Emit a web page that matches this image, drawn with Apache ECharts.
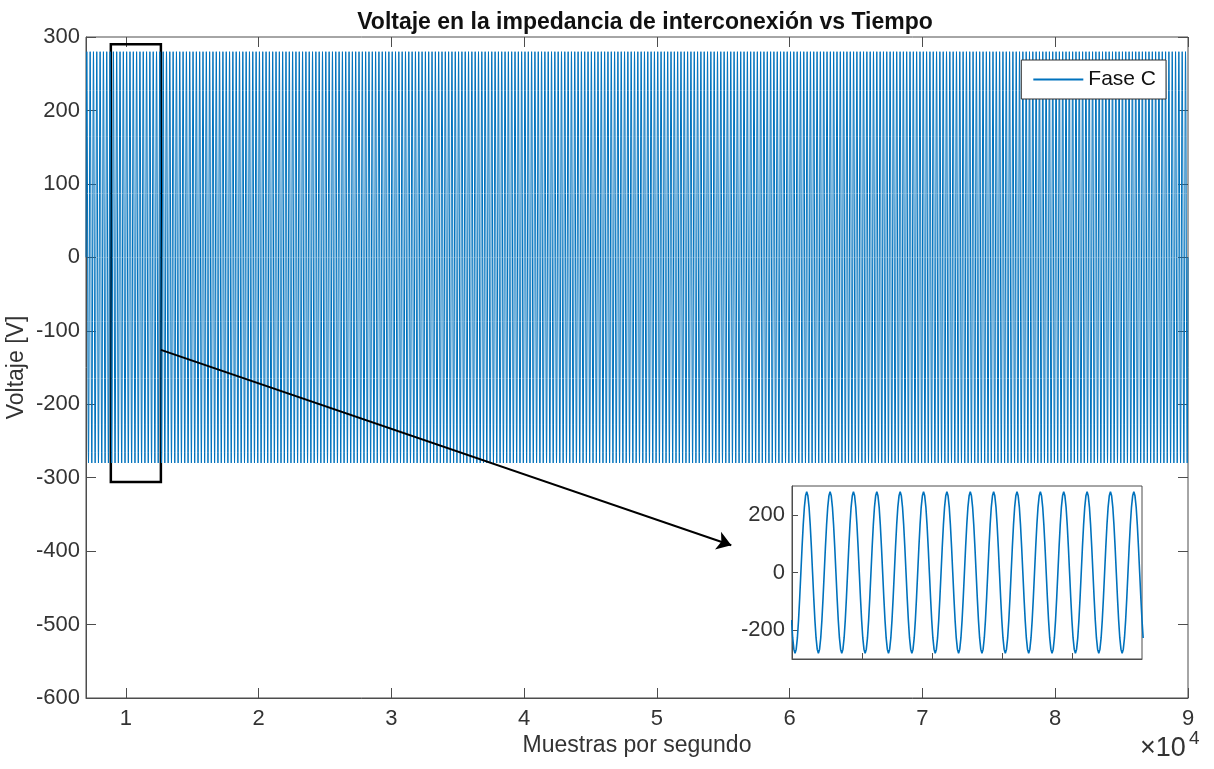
<!DOCTYPE html>
<html>
<head>
<meta charset="utf-8">
<title>Voltaje en la impedancia de interconexión vs Tiempo</title>
<script src="https://cdn.jsdelivr.net/npm/echarts@6/dist/echarts.min.js"></script>
<style>
  html, body { margin: 0; padding: 0; background: #fff; }
  #chart { width: 1214px; height: 769px; }
</style>
</head>
<body>
<div id="chart"></div>
<script>
  // muestras (eje x) y tensión (eje y)
  const tStart = 7000
  const tEnd = 90000
  const period = 250            // muestras por ciclo (~15 ciclos en el zoom)
  const cycleShape = [0, 87, 165, 227, 266, 280, 266, 227, 165, 87,
                      0, -87, -165, -227, -266, -280, -266, -227, -165, -87]
  const xTicks = [10000, 20000, 30000, 40000, 50000, 60000, 70000, 80000, 90000]
  const yTicks = [-600, -500, -400, -300, -200, -100, 0, 100, 200, 300]

  // recuadro ampliado
  const insetRange = [8905, 12650]
  const insetXTicks = [9655, 10405, 11150, 11900]
  const insetYTicks = [-200, 0, 200]
  // rectángulo y flecha de la anotación (en unidades de datos)
  const zoomBoxX = [8870, 12640]
  const zoomBoxY = [290, -306]
  const arrowFrom = [12640, -126]
  const arrowTo = [55600, -392]

  const step = period / cycleShape.length
  const signal = []
  for (let i = 0; tStart + i * step <= tEnd; i++) {
    signal.push([tStart + i * step, cycleShape[i % cycleShape.length]])
  }
  const insetData = signal.filter(p => p[0] >= insetRange[0] - step && p[0] <= insetRange[1] + step)

  const font = 'Liberation Sans, Arial, Helvetica, sans-serif'
  const axisColor = '#4d4d4d'
  const textColor = '#333'
  const blue = '#0072BD'

  const chart = echarts.init(document.getElementById('chart'))
  const option = {
    animation: false,
    backgroundColor: '#fff',
    textStyle: { fontFamily: font },
    title: {
      text: 'Voltaje en la impedancia de interconexión vs Tiempo',
      left: 640,
      textAlign: 'center',
      top: 6,
      textStyle: { fontFamily: font, fontSize: 23, fontWeight: 'bold', color: '#111' }
    },
    legend: {
      data: [{ name: 'Fase C', icon: 'rect' }],
      right: 48,
      top: 60,
      backgroundColor: '#fff',
      borderColor: '#333',
      borderWidth: 1,
      borderRadius: 0,
      padding: [9, 10, 9, 12],
      itemWidth: 50,
      itemHeight: 2,
      itemGap: 8,
      textStyle: { fontFamily: font, fontSize: 21, color: '#111' }
    },
    grid: [
      {
        left: 86, right: 26, top: 37, bottom: 71, containLabel: false, outerBoundsMode: 'none',
        show: true, borderColor: axisColor, borderWidth: 1, backgroundColor: '#fff'
      },
      {
        left: 792, top: 486, width: 350, height: 173, containLabel: false, outerBoundsMode: 'none',
        show: true, borderColor: axisColor, borderWidth: 1, backgroundColor: '#fff'
      }
    ],
    xAxis: [
      {
        gridIndex: 0, type: 'value', min: tStart, max: tEnd, position: 'bottom',
        axisLine: { show: true, onZero: false, lineStyle: { color: axisColor } },
        axisTick: { show: true, inside: true, length: 10, customValues: xTicks, lineStyle: { color: axisColor } },
        axisLabel: {
          customValues: xTicks, margin: 10, fontSize: 22, color: textColor, fontFamily: font,
          formatter: v => String(v / 10000)
        },
        splitLine: { show: false },
        name: 'Muestras por segundo', nameLocation: 'middle', nameGap: 36, nameMoveOverlap: false,
        nameTextStyle: { fontSize: 23, color: textColor, fontFamily: font }
      },
      {
        gridIndex: 0, type: 'value', min: tStart, max: tEnd, position: 'top',
        axisLine: { show: false, onZero: false },
        axisTick: { show: true, inside: true, length: 10, customValues: xTicks, lineStyle: { color: axisColor } },
        axisLabel: { show: false },
        splitLine: { show: false }
      },
      {
        gridIndex: 1, type: 'value', min: insetRange[0], max: insetRange[1], position: 'bottom',
        axisLine: { show: true, onZero: false, lineStyle: { color: axisColor } },
        axisTick: { show: true, inside: true, length: 6, customValues: insetXTicks, lineStyle: { color: axisColor } },
        axisLabel: { show: false },
        splitLine: { show: false }
      }
    ],
    yAxis: [
      {
        gridIndex: 0, type: 'value', min: yTicks[0], max: yTicks[yTicks.length - 1], interval: 100,
        axisLine: { show: true, onZero: false, lineStyle: { color: axisColor } },
        axisTick: { show: true, inside: true, length: 10, lineStyle: { color: axisColor } },
        axisLabel: { margin: 6, fontSize: 22, color: textColor, fontFamily: font },
        splitLine: { show: false },
        name: 'Voltaje [V]', nameLocation: 'middle', nameGap: 58, nameMoveOverlap: false,
        nameTextStyle: { fontSize: 23, color: textColor, fontFamily: font }
      },
      {
        gridIndex: 0, type: 'value', min: yTicks[0], max: yTicks[yTicks.length - 1], interval: 100, position: 'right',
        axisLine: { show: false, onZero: false },
        axisTick: { show: true, inside: true, length: 10, lineStyle: { color: axisColor } },
        axisLabel: { show: false },
        splitLine: { show: false }
      },
      {
        gridIndex: 1, type: 'value', min: -300, max: 300,
        axisLine: { show: true, onZero: false, lineStyle: { color: axisColor } },
        axisTick: { show: true, inside: true, length: 6, customValues: insetYTicks, lineStyle: { color: axisColor } },
        axisLabel: { customValues: insetYTicks, margin: 7, fontSize: 22, color: textColor, fontFamily: font },
        splitLine: { show: false }
      }
    ],
    series: [
      {
        name: 'Fase C',
        type: 'line',
        xAxisIndex: 0,
        yAxisIndex: 0,
        data: signal,
        symbol: 'none',
        showSymbol: false,
        color: blue,
        lineStyle: { color: blue, width: 1 },
        silent: true,
        markArea: {
          silent: true,
          itemStyle: { color: 'rgba(0,0,0,0)', borderColor: '#000', borderWidth: 2.5 },
          data: [[{ coord: [zoomBoxX[0], zoomBoxY[0]] }, { coord: [zoomBoxX[1], zoomBoxY[1]] }]]
        },
        markLine: {
          silent: true,
          symbol: ['none', 'arrow'],
          symbolSize: 14,
          label: { show: false },
          lineStyle: { color: '#000', width: 2, type: 'solid' },
          data: [[{ coord: arrowFrom }, { coord: arrowTo }]]
        }
      },
      {
        name: 'zoom',
        type: 'line',
        xAxisIndex: 2,
        yAxisIndex: 2,
        data: insetData,
        symbol: 'none',
        showSymbol: false,
        color: blue,
        lineStyle: { color: blue, width: 1.6 },
        silent: true
      }
    ],
    graphic: [
      { type: 'text', left: 1140, top: 735, style: { text: '×10', fontSize: 27, fontFamily: font, fill: textColor } },
      { type: 'text', left: 1189, top: 729, style: { text: '4', fontSize: 19, fontFamily: font, fill: textColor } }
    ]
  }
  chart.setOption(option)
</script>
</body>
</html>
